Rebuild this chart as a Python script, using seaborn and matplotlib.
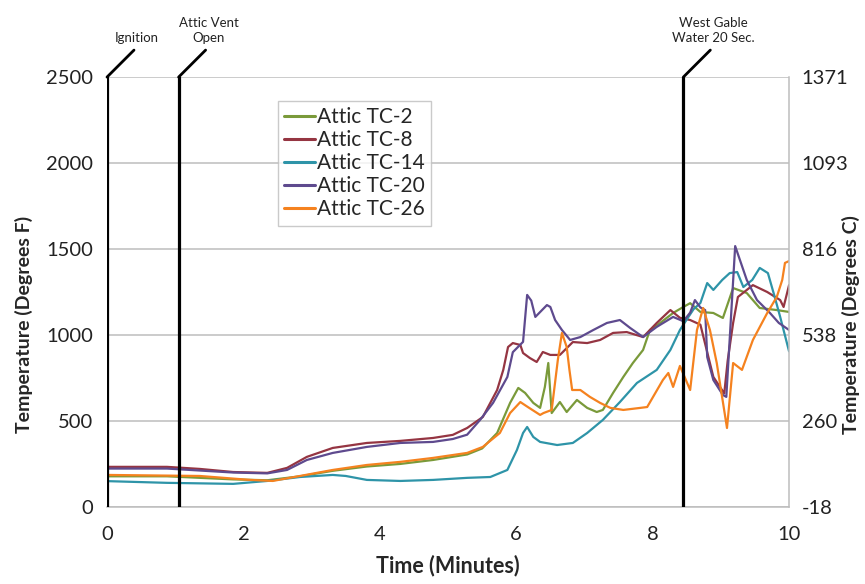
import pandas as pd
import numpy as np
import matplotlib
matplotlib.use('Agg')
import matplotlib.pyplot as plt
import seaborn as sns

# ----------------------------------------------------------------------------
# thermocouple readings (time in minutes, temperature in deg F)
SENSORS = ['Attic TC-2', 'Attic TC-8', 'Attic TC-14', 'Attic TC-20',
           'Attic TC-26']
COLORS = ['#7A9A3A', '#953542', '#2E94A8', '#5E4A8E', '#F5821F']

t_tc2 = [0, 0.88, 1.85, 2.35, 2.83, 3.31, 3.81, 4.3, 4.78, 5.28, 5.5, 5.72,
         5.91, 6.03, 6.13, 6.25, 6.35, 6.42, 6.47, 6.52, 6.64, 6.74, 6.89,
         7.04, 7.18, 7.27, 7.42, 7.57, 7.71, 7.86, 7.96, 8.11, 8.3, 8.45,
         8.55, 8.7, 8.89, 9.03, 9.18, 9.38, 9.57, 9.82, 10.0]
f_tc2 = [178, 178, 160, 155, 178, 210, 235, 250, 273, 305, 340, 430,
         605, 692, 663, 605, 576, 698, 837, 546, 610, 552, 622,
         576, 552, 564, 663, 756, 837, 913, 1029, 1070, 1128, 1163,
         1185, 1134, 1128, 1099, 1273, 1244, 1157, 1145, 1134]

t_tc8 = [0, 0.88, 1.36, 1.85, 2.35, 2.64, 2.93, 3.31, 3.81, 4.3, 4.78, 5.07,
         5.28, 5.51, 5.72, 5.81, 5.88, 5.95, 6.06, 6.1, 6.2, 6.3, 6.39, 6.5,
         6.64, 6.83, 7.04, 7.23, 7.42, 7.62, 7.86, 8.06, 8.26, 8.4, 8.55,
         8.7, 8.8, 8.89, 9.05, 9.1, 9.18, 9.25, 9.47, 9.68, 9.87, 9.92, 10.0]
f_tc8 = [233, 233, 221, 203, 198, 227, 291, 343, 372, 384, 401, 419,
         459, 523, 680, 797, 930, 953, 942, 895, 866, 843, 901, 884,
         884, 959, 953, 971, 1012, 1017, 988, 1070, 1145, 1100, 1087,
         1060, 900, 756, 660, 850, 1070, 1221, 1290, 1250, 1203, 1163, 1290]

t_tc14 = [0, 0.88, 1.85, 2.35, 2.83, 3.31, 3.5, 3.81, 4.3, 4.78, 5.28, 5.62,
          5.87, 6.01, 6.1, 6.16, 6.25, 6.35, 6.6, 6.83, 7.04, 7.27, 7.52,
          7.77, 8.06, 8.26, 8.4, 8.5, 8.6, 8.7, 8.8, 8.89, 9.02, 9.13, 9.24,
          9.33, 9.46, 9.57, 9.69, 9.79, 9.87, 10.0]
f_tc14 = [150, 140, 134, 151, 174, 186, 180, 157, 151, 157, 169, 174,
          215, 331, 430, 465, 407, 378, 360, 372, 430, 506, 610,
          721, 797, 913, 1029, 1090, 1150, 1186, 1302, 1262, 1320, 1360, 1366,
          1279, 1320, 1390, 1360, 1221, 1105, 905]

t_tc20 = [0, 0.88, 1.85, 2.35, 2.64, 2.93, 3.31, 3.81, 4.3, 4.78, 5.07, 5.28,
          5.47, 5.66, 5.87, 5.95, 6.1, 6.16, 6.22, 6.28, 6.45, 6.5, 6.57,
          6.67, 6.79, 6.94, 7.13, 7.33, 7.52, 7.67, 7.86, 8.06, 8.3, 8.45,
          8.55, 8.62, 8.7, 8.77, 8.8, 8.89, 9.03, 9.08, 9.21, 9.38, 9.53,
          9.72, 9.85, 10.0]
f_tc20 = [223, 223, 200, 195, 215, 273, 314, 349, 372, 378, 395, 420,
          506, 605, 756, 900, 960, 1233, 1200, 1105, 1174, 1163, 1087,
          1029, 971, 988, 1029, 1070, 1087, 1041, 988, 1047, 1105, 1080,
          1130, 1203, 1160, 1145, 872, 738, 651, 640, 1517, 1320, 1203,
          1128, 1070, 1029]

t_tc26 = [0, 1.36, 2.1, 2.43, 2.83, 3.31, 3.81, 4.3, 4.78, 5.28, 5.51, 5.76,
          5.91, 6.06, 6.17, 6.35, 6.4, 6.52, 6.61, 6.67, 6.74, 6.78, 6.82,
          6.94, 7.08, 7.23, 7.38, 7.57, 7.82, 7.92, 8.04, 8.15, 8.23, 8.3,
          8.4, 8.55, 8.65, 8.74, 8.84, 8.94, 9.09, 9.18, 9.31, 9.47, 9.68,
          9.82, 9.9, 9.94, 10.0]
f_tc26 = [186, 180, 157, 151, 180, 215, 244, 262, 285, 314, 349, 430,
          546, 610, 581, 535, 546, 564, 855, 1012, 930, 797, 680,
          680, 640, 605, 576, 564, 576, 581, 663, 738, 779, 698,
          820, 680, 1029, 1157, 1029, 837, 459, 837, 797, 971, 1128,
          1221, 1320, 1419, 1430]

# event markers
EVENT_TIMES = [0, 1.05, 8.45]
EVENT_LABELS = ['Ignition', 'Attic Vent\nOpen', 'West Gable\nWater 20 Sec.']

Y_TICKS_F = [0, 500, 1000, 1500, 2000, 2500]
X_TICKS = [0, 2, 4, 6, 8, 10]

# ----------------------------------------------------------------------------

frames = []
for name, t, f in zip(SENSORS,
                      [t_tc2, t_tc8, t_tc14, t_tc20, t_tc26],
                      [f_tc2, f_tc8, f_tc14, f_tc20, f_tc26]):
    frames.append(pd.DataFrame({'Time': t, 'Temp': f, 'Sensor': name}))
df = pd.concat(frames, ignore_index=True)

sns.set_style('white')
plt.rcParams['font.family'] = ['Lato', 'DejaVu Sans']

fig = plt.figure(figsize=(8.65, 5.84), dpi=100)
ax = fig.add_axes([0.1237, 0.132, 0.7885, 0.736])

sns.lineplot(data=df, x='Time', y='Temp', hue='Sensor', hue_order=SENSORS,
             palette=COLORS, estimator=None, sort=False, linewidth=1.6,
             ax=ax)

ax.set_xlim(0, 10)
ax.set_ylim(0, 2500)
ax.set_xticks(X_TICKS)
ax.set_yticks(Y_TICKS_F)
ax.yaxis.grid(True, color='#BDBDBD', linewidth=1.1)
ax.set_axisbelow(True)
ax.tick_params(axis='both', labelsize=14.5, colors='#222222')
ax.tick_params(axis='x', length=4, width=1, color='#BDBDBD', pad=10)
ax.tick_params(axis='y', length=0, pad=10)
for side in ['top', 'left']:
    ax.spines[side].set_visible(False)
for side in ['right', 'bottom']:
    ax.spines[side].set_color('#BDBDBD')
    ax.spines[side].set_linewidth(1.1)

ax.set_xlabel('Time (Minutes)', fontsize=15.5, fontweight='bold',
              labelpad=8)
ax.set_ylabel('Temperature (Degrees F)', fontsize=14, fontweight='bold')
ax.yaxis.set_label_coords(-0.108, 0.425)

# vertical event lines with slanted leaders
for t, lab in zip(EVENT_TIMES, EVENT_LABELS):
    ax.axvline(t, color='black', linewidth=2.3, zorder=5)
    ax.annotate('', xy=(t, 2500), xytext=(27, 27),
                textcoords='offset pixels', annotation_clip=False,
                arrowprops=dict(arrowstyle='-', color='black', lw=2,
                                shrinkA=0, shrinkB=0))
    ax.annotate(lab, xy=(t, 2500), xytext=(30, 33),
                textcoords='offset pixels', ha='center', va='bottom',
                fontsize=9.5, color='#222222', annotation_clip=False,
                linespacing=1.3)

# Celsius axis on the right
ax2 = ax.twinx()
ax2.set_ylim((0 - 32) * 5 / 9, (2500 - 32) * 5 / 9)
ax2.set_yticks([(v - 32) * 5 / 9 for v in Y_TICKS_F])
ax2.set_yticklabels(['%d' % round((v - 32) * 5 / 9) for v in Y_TICKS_F])
ax2.tick_params(axis='y', labelsize=14.5, length=0, pad=9, colors='#222222')
for side in ax2.spines:
    ax2.spines[side].set_visible(False)
ax2.set_ylabel('Temperature (Degrees C)', fontsize=14, fontweight='bold')
ax2.yaxis.set_label_coords(1.078, 0.425)

leg = ax.legend(loc='upper left', bbox_to_anchor=(0.25, 0.945),
                fontsize=15, frameon=True, fancybox=False,
                handlelength=1.5, handletextpad=0.1, borderpad=0.3,
                labelspacing=0.15, borderaxespad=0)
leg.get_frame().set_edgecolor('#BDBDBD')
leg.get_frame().set_linewidth(1)
for line in leg.get_lines():
    line.set_linewidth(2.2)

fig.savefig('out.png', dpi=100)
